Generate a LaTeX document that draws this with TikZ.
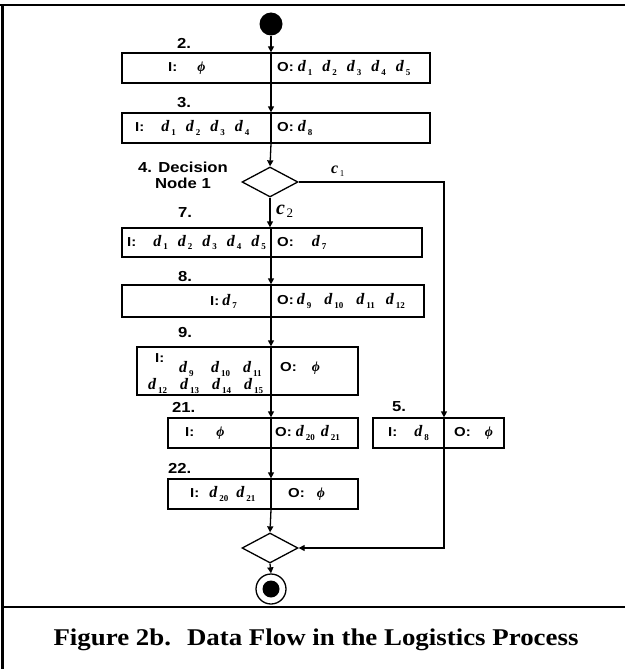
\documentclass[tikz,border=0pt]{standalone}
\usepackage{fontspec}
\setmainfont{Liberation Sans}[FakeStretch=1.15]
\newfontfamily\tms{Liberation Serif}
\newfontfamily\capfont{Liberation Serif}[FakeStretch=1.12]
\usetikzlibrary{arrows.meta,shapes.geometric}
% italic data item d_i and condition c_i, set in Times-like serif
\newcommand\dv[1]{{\tms\fontsize{16}{16}\selectfont\bfseries\itshape d}\kern2pt\raisebox{-0.45ex}{\tms\fontsize{9}{9}\selectfont\bfseries #1}}
\newcommand\cv[3]{{\tms\fontsize{#1}{#1}\selectfont\bfseries\itshape c}\kern1.5pt\raisebox{-0.5ex}{\tms\fontsize{#2}{#2}\selectfont #3}}
\newcommand\nodata{{\tms\fontsize{14}{14}\selectfont\bfseries\itshape ϕ}}
\newcommand\g{\hspace{10pt}}
\newcommand\col[1]{\makebox[32pt][l]{#1}}
\begin{document}
\begin{tikzpicture}[x=1pt,y=-1pt,
  box/.style={draw,line width=1.3pt,rectangle,inner sep=0pt},
  gate/.style={draw,line width=1.3pt,diamond,inner sep=0pt,minimum width=56pt,minimum height=30pt},
  flow/.style={line width=1.3pt},
  arr/.style={line width=1.3pt,-{Triangle[length=6pt,width=6pt]}},
  step label/.style={font=\fontsize{14.5}{16}\selectfont\bfseries,anchor=west,inner sep=0pt},
  cell/.style={font=\fontsize{13}{14}\selectfont\bfseries,anchor=west,inner sep=0pt},
  frame/.style={line width=2.6pt}]
\useasboundingbox (0,0) rectangle (625,669);

% outer frame
\draw[frame] (0,5) -- (625,5);
\draw[frame] (2.5,5) -- (2.5,669);
\draw[frame] (2.5,607) -- (625,607);

% main spine and side branch x positions
\coordinate (sp) at (271,0);
\coordinate (br) at (444,0);

% nodes
\node[circle,fill=black,minimum size=23pt,inner sep=0pt] (start) at (271,24) {};
\node[box,minimum width=308pt,minimum height=30pt] (b2) at (276,68) {};
\node[box,minimum width=308pt,minimum height=30pt] (b3) at (276,128) {};
\node[gate] (dec) at (270,182) {};
\node[box,minimum width=300pt,minimum height=29pt] (b7) at (272,242.5) {};
\node[box,minimum width=302pt,minimum height=32pt] (b8) at (273,301) {};
\node[box,minimum width=221pt,minimum height=48pt] (b9) at (247.5,371) {};
\node[box,minimum width=190pt,minimum height=30pt] (b21) at (263,433) {};
\node[box,minimum width=131pt,minimum height=30pt] (b5) at (438.5,433) {};
\node[box,minimum width=190pt,minimum height=30pt] (b22) at (263,494) {};
\node[gate] (merge) at (270,548) {};
\node[circle,draw,line width=1.3pt,minimum size=30pt,inner sep=0pt] (end) at (271,589) {};
\node[circle,fill=black,minimum size=17pt,inner sep=0pt] (endin) at (271,589) {};

% step labels
\node[step label] (l2) at (177,43) {2.};
\node[step label] (l3) at (177,103) {3.};
\node[font=\fontsize{14.5}{16}\selectfont\bfseries,align=center,inner sep=0pt] (l4) at (183,175) {4. Decision\\Node 1};
\node[step label] (l7) at (178,213) {7.};
\node[step label] (l8) at (178,277) {8.};
\node[step label] (l9) at (178,333) {9.};
\node[step label] (l21) at (172,407) {21.};
\node[step label] (l5) at (392,407) {5.};
\node[step label] (l22) at (168,468) {22.};

% box contents
\node[cell] (i2) at (168,68) {I:\hspace{20pt}\nodata};
\node[cell] (o2) at (277,68) {O:\hspace{4pt}\dv1\g\dv2\g\dv3\g\dv4\g\dv5};
\node[cell] (i3) at (135,128) {I:\hspace{17pt}\dv1\g\dv2\g\dv3\g\dv4};
\node[cell] (o3) at (277,128) {O:\hspace{4pt}\dv8};
\node[cell] (i7) at (127,242.5) {I:\hspace{17pt}\dv1\g\dv2\g\dv3\g\dv4\g\dv5};
\node[cell] (o7) at (277,242.5) {O:\hspace{18pt}\dv7};
\node[cell] (i8) at (210,301) {I:\hspace{3pt}\dv7};
\node[cell] (o8) at (277,301) {O:\hspace{3pt}\dv9\hspace{13pt}\dv{10}\hspace{13pt}\dv{11}\hspace{11pt}\dv{12}};
\node[cell] (i9) at (155,358) {I:};
\node[cell] (i9a) at (179,369) {\col{\dv9}\col{\dv{10}}\dv{11}};
\node[cell] (i9b) at (148,386) {\col{\dv{12}}\col{\dv{13}}\col{\dv{14}}\dv{15}};
\node[cell] (o9) at (280,368) {O:\hspace{15pt}\nodata};
\node[cell] (i21) at (185,433) {I:\hspace{22pt}\nodata};
\node[cell] (o21) at (275,433) {O:\hspace{4pt}\dv{20}\hspace{6pt}\dv{21}};
\node[cell] (i5) at (388,433) {I:\hspace{17pt}\dv8};
\node[cell] (o5) at (454,433) {O:\hspace{14pt}\nodata};
\node[cell] (i22) at (190,494) {I:\hspace{10pt}\dv{20}\hspace{8pt}\dv{21}};
\node[cell] (o22) at (288,494) {O:\hspace{12pt}\nodata};

% dividers (the flow lines pass through each box)
\foreach \b in {b2,b3,b7,b8,b9,b21,b22}
  \draw[flow] (\b.north -| sp) -- (\b.south -| sp);
\draw[flow] (b5.north -| br) -- (b5.south -| br);

% main flow
\draw[arr] (start.south) -- (b2.north -| sp);
\draw[arr] (b2.south -| sp) -- (b3.north -| sp);
\draw[arr] (b3.south -| sp) -- (dec.north);
\draw[arr] (dec.south) -- (b7.north -| dec.south);
\node[inner sep=0pt,anchor=west] (c2) at (276,211) {\cv{20}{13}2};
\draw[arr] (b7.south -| sp) -- (b8.north -| sp);
\draw[arr] (b8.south -| sp) -- (b9.north -| sp);
\draw[arr] (b9.south -| sp) -- (b21.north -| sp);
\draw[arr] (b21.south -| sp) -- (b22.north -| sp);
\draw[arr] (b22.south -| sp) -- (merge.north);
\draw[arr] (merge.south) -- (end.north);

% side branch c1 through step 5
\draw[arr] (dec.east) -- (dec.east -| br) -- (b5.north -| br);
\node[inner sep=0pt,anchor=west] (c1) at (331,171) {\cv{16}{9}1};
\draw[arr] (b5.south -| br) |- (merge.east);

% caption
\node[font=\capfont\bfseries\fontsize{24}{28}\selectfont,inner sep=0pt] (cap) at (316,640)
  {Figure 2b.\hspace{16pt}Data Flow in the Logistics Process};
\end{tikzpicture}
\end{document}
